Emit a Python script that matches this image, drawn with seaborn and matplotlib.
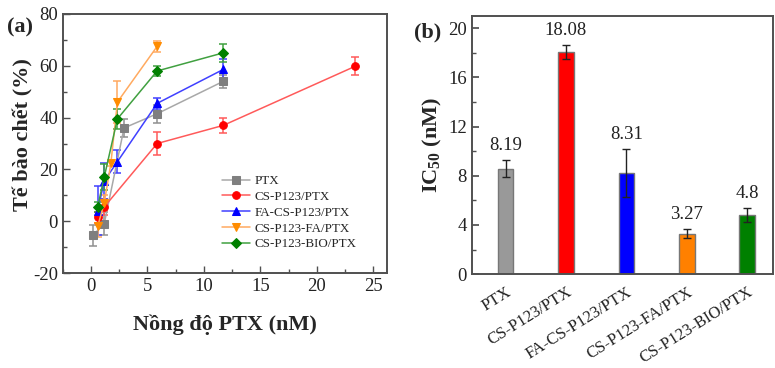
import matplotlib
matplotlib.use("Agg")
import matplotlib.pyplot as plt
import seaborn as sns
import pandas as pd
from matplotlib.ticker import MultipleLocator

# ---------------- data (panel a) ----------------
series_names = ["PTX", "CS-P123/PTX", "FA-CS-P123/PTX", "CS-P123-FA/PTX", "CS-P123-BIO/PTX"]
ptx_x = [0.15, 1.17, 2.93, 5.86, 11.72]
ptx_y = [-5.5, -1.0, 36.0, 41.5, 54.0]
ptx_e = [4.0, 4.5, 3.5, 3.5, 2.5]
csp_x = [0.59, 1.17, 5.86, 11.72, 23.4]
csp_y = [1.5, 5.5, 30.0, 37.0, 59.8]
csp_e = [2.0, 3.0, 4.5, 3.0, 3.5]
facsp_x = [0.59, 1.17, 2.34, 5.86, 11.72]
facsp_y = [4.0, 15.5, 23.0, 45.5, 58.6]
facsp_e = [9.5, 7.0, 4.5, 2.0, 4.0]
cspfa_x = [0.59, 1.17, 1.76, 2.34, 5.86]
cspfa_y = [-2.0, 7.0, 22.3, 46.0, 67.5]
cspfa_e = [4.0, 3.0, 1.0, 8.0, 2.0]
cspbio_x = [0.59, 1.17, 2.34, 5.86, 11.72]
cspbio_y = [5.5, 17.0, 39.5, 58.0, 65.0]
cspbio_e = [2.0, 5.0, 4.0, 2.0, 3.5]

# ---------------- data (panel b) ----------------
bar_cats = ["PTX", "CS-P123/PTX", "FA-CS-P123/PTX", "CS-P123-FA/PTX", "CS-P123-BIO/PTX"]
bar_vals = [8.56, 18.07, 8.23, 3.30, 4.83]
bar_errs = [0.70, 0.55, 1.95, 0.35, 0.55]
bar_labels = ["8.19", "18.08", "8.31", "3.27", "4.8"]

# ---------------- styles ----------------
line_colors = ["#a8a8a8", "#ff5a5a", "#4040ff", "#ffaa60", "#40a040"]
mark_colors = ["#7f7f7f", "#ff0000", "#0000ff", "#ff8c00", "#008000"]
markers = ["s", "o", "^", "v", "D"]
bar_colors = ["#999999", "#ff0000", "#0000ff", "#ff8000", "#008000"]

sns.set_theme(style="ticks")
plt.rcParams["font.family"] = ["Liberation Serif", "DejaVu Serif"]
plt.rcParams["mathtext.fontset"] = "custom"
plt.rcParams["mathtext.rm"] = "Liberation Serif:bold"
plt.rcParams["mathtext.bf"] = "Liberation Serif:bold"
plt.rcParams["axes.unicode_minus"] = False

fig = plt.figure(figsize=(7.75, 3.68), dpi=100)
axA = fig.add_axes([0.081, 0.258, 0.418, 0.704])
axB = fig.add_axes([0.609, 0.255, 0.388, 0.702])

spine_col = "#505050"
tick_fs = 13.5

# ---------------- panel a ----------------
xs = [ptx_x, csp_x, facsp_x, cspfa_x, cspbio_x]
ys = [ptx_y, csp_y, facsp_y, cspfa_y, cspbio_y]
es = [ptx_e, csp_e, facsp_e, cspfa_e, cspbio_e]
for i, name in enumerate(series_names):
    df = pd.DataFrame({"x": xs[i], "y": ys[i]})
    axA.errorbar(df["x"], df["y"], yerr=es[i], fmt="none", ecolor=line_colors[i] if i != 0 else "#909090",
                 elinewidth=1.1, capsize=3, capthick=1.1, zorder=2)
    sns.lineplot(data=df, x="x", y="y", ax=axA, color=line_colors[i], linewidth=1.1,
                 marker=markers[i], markersize=5.5 if markers[i] != "D" else 5,
                 markerfacecolor=mark_colors[i], markeredgecolor=mark_colors[i],
                 label=name, estimator=None, sort=False, zorder=3)

axA.set_xlim(-2.5, 26.2)
axA.set_ylim(-20, 80)
axA.xaxis.set_major_locator(MultipleLocator(5))
axA.xaxis.set_minor_locator(MultipleLocator(2.5))
axA.yaxis.set_major_locator(MultipleLocator(20))
axA.yaxis.set_minor_locator(MultipleLocator(10))
axA.tick_params(which="both", direction="in", top=False, right=False, colors=spine_col,
                labelcolor="#222222", labelsize=tick_fs)
axA.tick_params(which="major", length=5, width=1.0)
axA.tick_params(which="minor", length=3, width=1.0)
for s in axA.spines.values():
    s.set_color(spine_col)
    s.set_linewidth(1.4)
axA.set_xlabel("Nồng độ PTX (nM)", fontsize=16, fontweight="bold", labelpad=14)
axA.set_ylabel("Tế bào chết (%)", fontsize=16, fontweight="bold")
axA.yaxis.set_label_coords(-0.09, 0.533)
leg = axA.legend(loc="upper left", bbox_to_anchor=(0.49, 0.378), frameon=False, fontsize=9.4,
                 handlelength=2.2, handletextpad=0.3, labelspacing=0.28, borderaxespad=0.0,
                 borderpad=0.0)
fig.text(0.026, 0.925, "(a)", fontsize=16, fontweight="bold", ha="center", va="center")

# ---------------- panel b ----------------
dfb = pd.DataFrame({"cat": bar_cats, "val": bar_vals})
sns.barplot(data=dfb, x="cat", y="val", hue="cat", palette=bar_colors, ax=axB, width=0.26,
            saturation=1, edgecolor="#777777", linewidth=1.0, legend=False, errorbar=None)
pos = list(range(len(bar_cats)))
axB.errorbar(pos, bar_vals, yerr=bar_errs, fmt="none", ecolor="#222222", elinewidth=1.0,
             capsize=3, capthick=1.0, zorder=5)
for p, v, e, t in zip(pos, bar_vals, bar_errs, bar_labels):
    axB.text(p, v + e + 0.5, t, ha="center", va="bottom", fontsize=tick_fs, color="#222222")

axB.set_xlim(-0.555, 4.42)
axB.set_ylim(0, 21)
axB.yaxis.set_major_locator(MultipleLocator(4))
axB.yaxis.set_minor_locator(MultipleLocator(2))
axB.tick_params(axis="y", which="both", direction="in", colors=spine_col, labelcolor="#222222",
                labelsize=tick_fs)
axB.tick_params(axis="y", which="major", length=5)
axB.tick_params(axis="y", which="minor", length=3)
axB.tick_params(axis="x", length=0, labelsize=12, labelcolor="#222222", pad=7)
for lab in axB.get_xticklabels():
    lab.set_rotation(32)
    lab.set_ha("right")
    lab.set_rotation_mode("anchor")
for s in axB.spines.values():
    s.set_color(spine_col)
    s.set_linewidth(1.4)
axB.set_xlabel("")
axB.set_ylabel("IC$_{50}$ (nM)", fontsize=16, fontweight="bold")
axB.yaxis.set_label_coords(-0.093, 0.5)
fig.text(0.552, 0.912, "(b)", fontsize=16, fontweight="bold", ha="center", va="center")

fig.savefig("out.png", dpi=100)
